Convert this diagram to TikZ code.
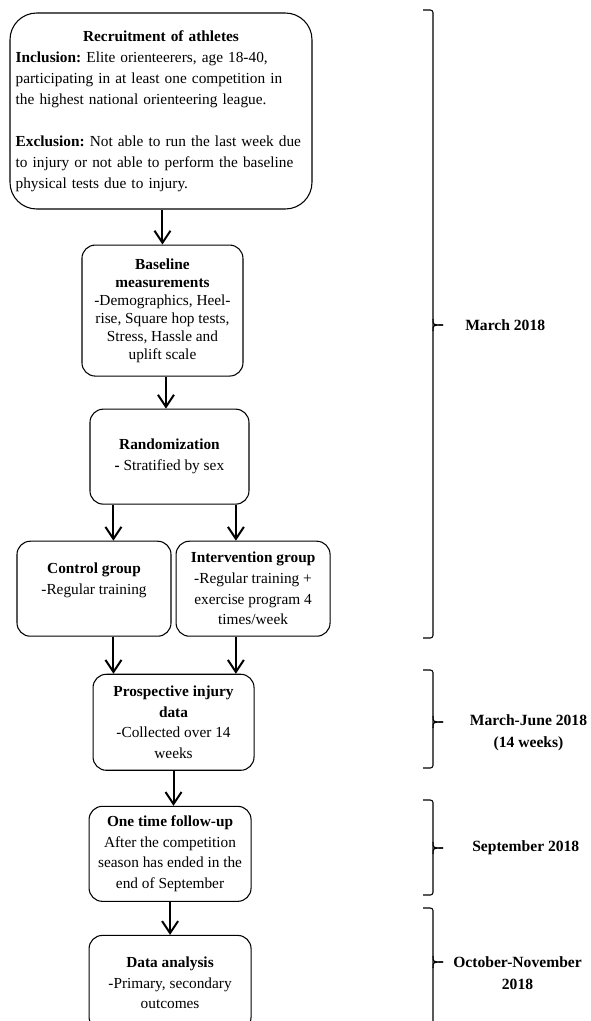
\documentclass[tikz,border=0pt]{standalone}
\usepackage{fontspec}
\setmainfont{Liberation Serif}
\usepackage{tikz}
\usetikzlibrary{arrows.meta,positioning,calc}
\newcommand{\diagfont}{\fontsize{11.5pt}{15.5pt}\selectfont\frenchspacing}
% bracket on the right: top, bottom, tip, name of tip
\newcommand{\timebrace}[4]{%
  \draw[bracket] (423,#1) -- (433,#1) -- (433,#2) -- (423,#2);
  \draw[bracket] (433,#3-6) .. controls (433,#3) .. (443,#3);
  \draw[bracket] (433,#3+6) .. controls (433,#3) .. (443,#3);
  \coordinate (#4) at (443,#3);}

\begin{document}
\begin{tikzpicture}[
  x=0.75pt,y=-0.75pt,
  font=\diagfont,
  block/.style={draw,rounded corners=10pt,align=center,line width=0.8pt,inner sep=2pt},
  arrow/.style={-{Straight Barb[length=9pt,width=12pt]},line width=1.5pt},
  bracket/.style={line width=0.8pt,rounded corners=2pt},
  datelabel/.style={font=\fontsize{11.7pt}{16.5pt}\selectfont\bfseries,align=center,inner sep=0pt}
]
\clip (0,0) rectangle (590,1021);
\node[block,minimum width=226.5pt,minimum height=147pt,text width=218pt,align=left,
  rounded corners=20pt,font=\fontsize{11.5pt}{15.75pt}\selectfont\frenchspacing] (recruit) at (161,111)
  {\makebox[\linewidth]{\textbf{Recruitment of athletes}}\\
   \textbf{Inclusion:} Elite orienteerers, age 18-40,\\
   participating in at least one competition in\\
   the highest national orienteering league.\\[15.75pt]
   \textbf{Exclusion:} Not able to run the last week due\\
   to injury or not able to perform the baseline\\
   physical tests due to injury.};
\node[block,minimum width=120.75pt,minimum height=98.25pt,below=26.25pt of recruit,xshift=1.1pt,
  font=\fontsize{11.5pt}{13.5pt}\selectfont\frenchspacing] (baseline)
  {\textbf{Baseline}\\\textbf{measurements}\\-Demographics, Heel-\\rise, Square hop tests,\\Stress, Hassle and\\uplift scale};
\node[block,minimum width=119.25pt,minimum height=71.25pt,below=24pt of baseline,xshift=5.25pt] (random)
  {\textbf{Randomization}\\\textbf{-} Stratified by sex};
\node[block,minimum width=115.5pt,minimum height=71.25pt,below=27pt of random,xshift=-56.6pt] (control)
  {\textbf{Control group}\\-Regular training\\\mbox{}};
\node[block,minimum width=115.5pt,minimum height=71.25pt,right=3pt of control] (interv)
  {\textbf{Intervention group}\\-Regular training +\\exercise program 4\\times/week};
\coordinate (groups) at ($(control.south)!.5!(interv.south)$);
\node[block,minimum width=120.75pt,minimum height=72pt,below=27.75pt of groups] (prosp)
  {\textbf{Prospective injury}\\\textbf{data}\\-Collected over 14\\weeks};
\node[block,minimum width=121.5pt,minimum height=71.25pt,below=26.25pt of prosp,xshift=-2.6pt] (follow)
  {\textbf{One time follow-up}\\After the competition\\season has ended in the\\end of September};
\node[block,minimum width=121.5pt,minimum height=71.25pt,below=24.75pt of follow] (data)
  {\textbf{Data analysis}\\-Primary, secondary\\outcomes};

\coordinate (bx) at ($(baseline.south)!.5!(random.north)$);
\coordinate (lx) at ($(random.south west)!.15!(random.south east)$);
\coordinate (rx) at ($(random.south west)!.915!(random.south east)$);
\draw[arrow] (recruit.south -| baseline) -- (baseline.north);
\draw[arrow] (bx |- baseline.south) -- (bx |- random.north);
\draw[arrow] (lx) -- (lx |- control.north);
\draw[arrow] (rx) -- (rx |- interv.north);
\draw[arrow] (lx |- control.south) -- (lx |- prosp.north);
\draw[arrow] (rx |- interv.south) -- (rx |- prosp.north);
\draw[arrow] (prosp.south) -- (prosp.south |- follow.north);
\draw[arrow] (follow.south) -- (follow.south |- data.north);

% time frames
\timebrace{10}{638}{325}{b1}
\timebrace{670}{768}{722}{b2}
\timebrace{800}{895}{848}{b3}
\timebrace{908}{1040}{962}{b4}
\node[datelabel,right=16.5pt of b1] (mar) {March 2018};
\node[datelabel,right=20pt of b2,yshift=-8.2pt] (marjun) {March-June 2018\\(14 weeks)};
\node[datelabel,right=21.75pt of b3] (sep) {September 2018};
\node[datelabel,right=7.5pt of b4,yshift=-8.2pt] (octnov) {October-November\\2018};
\end{tikzpicture}
\end{document}
